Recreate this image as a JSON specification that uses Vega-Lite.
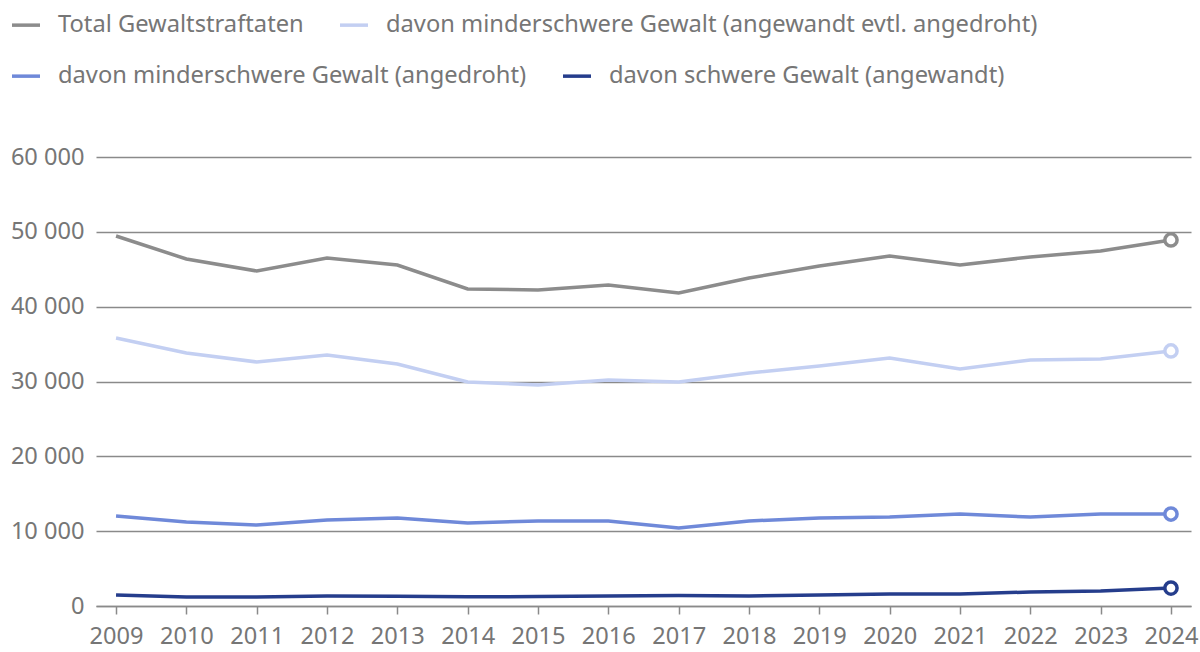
{
  "$schema": "https://vega.github.io/schema/vega-lite/v6.json",
  "width": 1095,
  "height": 449,
  "autosize": {"type": "none"},
  "padding": {"left": 96, "top": 157, "right": 9, "bottom": 46},
  "background": "white",
  "config": {
    "view": {"stroke": null},
    "font": "Noto Sans",
    "locale": {"number": {"decimal": ",", "thousands": " ", "grouping": [3], "currency": ["", ""]}},
    "legend": {
      "title": null, "orient": "none", "direction": "horizontal",
      "symbolType": "stroke", "symbolSize": 784, "symbolStrokeWidth": 3.5,
      "labelFontSize": 23.7, "labelColor": "#767676", "labelOffset": 16,
      "columnPadding": 29, "labelLimit": 1000
    }
  },
  "datasets": {"main": [
    {"year": "2009", "series": "Total Gewaltstraftaten", "value": 49440},
    {"year": "2010", "series": "Total Gewaltstraftaten", "value": 46370},
    {"year": "2011", "series": "Total Gewaltstraftaten", "value": 44770},
    {"year": "2012", "series": "Total Gewaltstraftaten", "value": 46500},
    {"year": "2013", "series": "Total Gewaltstraftaten", "value": 45570},
    {"year": "2014", "series": "Total Gewaltstraftaten", "value": 42360},
    {"year": "2015", "series": "Total Gewaltstraftaten", "value": 42230},
    {"year": "2016", "series": "Total Gewaltstraftaten", "value": 42900},
    {"year": "2017", "series": "Total Gewaltstraftaten", "value": 41830},
    {"year": "2018", "series": "Total Gewaltstraftaten", "value": 43830},
    {"year": "2019", "series": "Total Gewaltstraftaten", "value": 45440},
    {"year": "2020", "series": "Total Gewaltstraftaten", "value": 46770},
    {"year": "2021", "series": "Total Gewaltstraftaten", "value": 45570},
    {"year": "2022", "series": "Total Gewaltstraftaten", "value": 46640},
    {"year": "2023", "series": "Total Gewaltstraftaten", "value": 47440},
    {"year": "2024", "series": "Total Gewaltstraftaten", "value": 48910},
    {"year": "2009", "series": "davon minderschwere Gewalt (angewandt evtl. angedroht)", "value": 35810},
    {"year": "2010", "series": "davon minderschwere Gewalt (angewandt evtl. angedroht)", "value": 33810},
    {"year": "2011", "series": "davon minderschwere Gewalt (angewandt evtl. angedroht)", "value": 32610},
    {"year": "2012", "series": "davon minderschwere Gewalt (angewandt evtl. angedroht)", "value": 33540},
    {"year": "2013", "series": "davon minderschwere Gewalt (angewandt evtl. angedroht)", "value": 32340},
    {"year": "2014", "series": "davon minderschwere Gewalt (angewandt evtl. angedroht)", "value": 29930},
    {"year": "2015", "series": "davon minderschwere Gewalt (angewandt evtl. angedroht)", "value": 29530},
    {"year": "2016", "series": "davon minderschwere Gewalt (angewandt evtl. angedroht)", "value": 30200},
    {"year": "2017", "series": "davon minderschwere Gewalt (angewandt evtl. angedroht)", "value": 29930},
    {"year": "2018", "series": "davon minderschwere Gewalt (angewandt evtl. angedroht)", "value": 31140},
    {"year": "2019", "series": "davon minderschwere Gewalt (angewandt evtl. angedroht)", "value": 32070},
    {"year": "2020", "series": "davon minderschwere Gewalt (angewandt evtl. angedroht)", "value": 33140},
    {"year": "2021", "series": "davon minderschwere Gewalt (angewandt evtl. angedroht)", "value": 31670},
    {"year": "2022", "series": "davon minderschwere Gewalt (angewandt evtl. angedroht)", "value": 32870},
    {"year": "2023", "series": "davon minderschwere Gewalt (angewandt evtl. angedroht)", "value": 33010},
    {"year": "2024", "series": "davon minderschwere Gewalt (angewandt evtl. angedroht)", "value": 34080},
    {"year": "2009", "series": "davon minderschwere Gewalt (angedroht)", "value": 12030},
    {"year": "2010", "series": "davon minderschwere Gewalt (angedroht)", "value": 11230},
    {"year": "2011", "series": "davon minderschwere Gewalt (angedroht)", "value": 10820},
    {"year": "2012", "series": "davon minderschwere Gewalt (angedroht)", "value": 11490},
    {"year": "2013", "series": "davon minderschwere Gewalt (angedroht)", "value": 11760},
    {"year": "2014", "series": "davon minderschwere Gewalt (angedroht)", "value": 11090},
    {"year": "2015", "series": "davon minderschwere Gewalt (angedroht)", "value": 11360},
    {"year": "2016", "series": "davon minderschwere Gewalt (angedroht)", "value": 11360},
    {"year": "2017", "series": "davon minderschwere Gewalt (angedroht)", "value": 10420},
    {"year": "2018", "series": "davon minderschwere Gewalt (angedroht)", "value": 11360},
    {"year": "2019", "series": "davon minderschwere Gewalt (angedroht)", "value": 11760},
    {"year": "2020", "series": "davon minderschwere Gewalt (angedroht)", "value": 11890},
    {"year": "2021", "series": "davon minderschwere Gewalt (angedroht)", "value": 12290},
    {"year": "2022", "series": "davon minderschwere Gewalt (angedroht)", "value": 11890},
    {"year": "2023", "series": "davon minderschwere Gewalt (angedroht)", "value": 12290},
    {"year": "2024", "series": "davon minderschwere Gewalt (angedroht)", "value": 12290},
    {"year": "2009", "series": "davon schwere Gewalt (angewandt)", "value": 1470},
    {"year": "2010", "series": "davon schwere Gewalt (angewandt)", "value": 1200},
    {"year": "2011", "series": "davon schwere Gewalt (angewandt)", "value": 1200},
    {"year": "2012", "series": "davon schwere Gewalt (angewandt)", "value": 1340},
    {"year": "2013", "series": "davon schwere Gewalt (angewandt)", "value": 1300},
    {"year": "2014", "series": "davon schwere Gewalt (angewandt)", "value": 1220},
    {"year": "2015", "series": "davon schwere Gewalt (angewandt)", "value": 1270},
    {"year": "2016", "series": "davon schwere Gewalt (angewandt)", "value": 1340},
    {"year": "2017", "series": "davon schwere Gewalt (angewandt)", "value": 1400},
    {"year": "2018", "series": "davon schwere Gewalt (angewandt)", "value": 1340},
    {"year": "2019", "series": "davon schwere Gewalt (angewandt)", "value": 1470},
    {"year": "2020", "series": "davon schwere Gewalt (angewandt)", "value": 1600},
    {"year": "2021", "series": "davon schwere Gewalt (angewandt)", "value": 1600},
    {"year": "2022", "series": "davon schwere Gewalt (angewandt)", "value": 1870},
    {"year": "2023", "series": "davon schwere Gewalt (angewandt)", "value": 2000},
    {"year": "2024", "series": "davon schwere Gewalt (angewandt)", "value": 2400}
  ]},
  "data": {"name": "main"},
  "encoding": {
    "x": {
      "field": "year", "type": "ordinal",
      "scale": {"type": "point", "padding": 0.285},
      "axis": {
        "title": null, "labelAngle": 0, "grid": false,
        "domain": true, "domainColor": "#8a8a8a", "domainWidth": 1.5,
        "ticks": true, "tickColor": "#8a8a8a", "tickWidth": 1.5, "tickSize": 8,
        "labelFontSize": 23.6, "labelColor": "#767676", "labelPadding": 10
      }
    },
    "y": {
      "field": "value", "type": "quantitative",
      "scale": {"domain": [0, 60000], "nice": false},
      "axis": {
        "title": null, "values": [0, 10000, 20000, 30000, 40000, 50000, 60000],
        "format": ",d", "domain": false, "ticks": false,
        "grid": true, "gridColor": "#8a8a8a", "gridWidth": 1.5,
        "labelFontSize": 23.6, "labelColor": "#767676", "labelPadding": 12
      }
    }
  },
  "layer": [
    {
      "transform": [{"filter": {"field": "series", "oneOf": ["Total Gewaltstraftaten", "davon minderschwere Gewalt (angewandt evtl. angedroht)"]}}],
      "encoding": {
        "color": {
          "field": "series", "type": "nominal",
          "scale": {
            "domain": ["Total Gewaltstraftaten", "davon minderschwere Gewalt (angewandt evtl. angedroht)"],
            "range": ["#8c8c8c", "#c3cff2"]
          },
          "legend": {"legendX": -86, "legendY": -148}
        }
      },
      "layer": [
        {"mark": {"type": "line", "strokeWidth": 3.5}},
        {
          "transform": [{"filter": "datum.year == '2024'"}],
          "mark": {"type": "point", "filled": false, "fill": "white", "fillOpacity": 1, "opacity": 1, "strokeWidth": 3.5, "size": 150}
        }
      ]
    },
    {
      "transform": [{"filter": {"field": "series", "oneOf": ["davon minderschwere Gewalt (angedroht)", "davon schwere Gewalt (angewandt)"]}}],
      "encoding": {
        "color": {
          "field": "series", "type": "nominal",
          "scale": {
            "domain": ["davon minderschwere Gewalt (angedroht)", "davon schwere Gewalt (angewandt)"],
            "range": ["#6f89d9", "#253d8c"]
          },
          "legend": {"legendX": -86, "legendY": -97}
        }
      },
      "layer": [
        {"mark": {"type": "line", "strokeWidth": 3.5}},
        {
          "transform": [{"filter": "datum.year == '2024'"}],
          "mark": {"type": "point", "filled": false, "fill": "white", "fillOpacity": 1, "opacity": 1, "strokeWidth": 3.5, "size": 150}
        }
      ]
    }
  ],
  "resolve": {"scale": {"color": "independent"}, "legend": {"color": "independent"}}
}
